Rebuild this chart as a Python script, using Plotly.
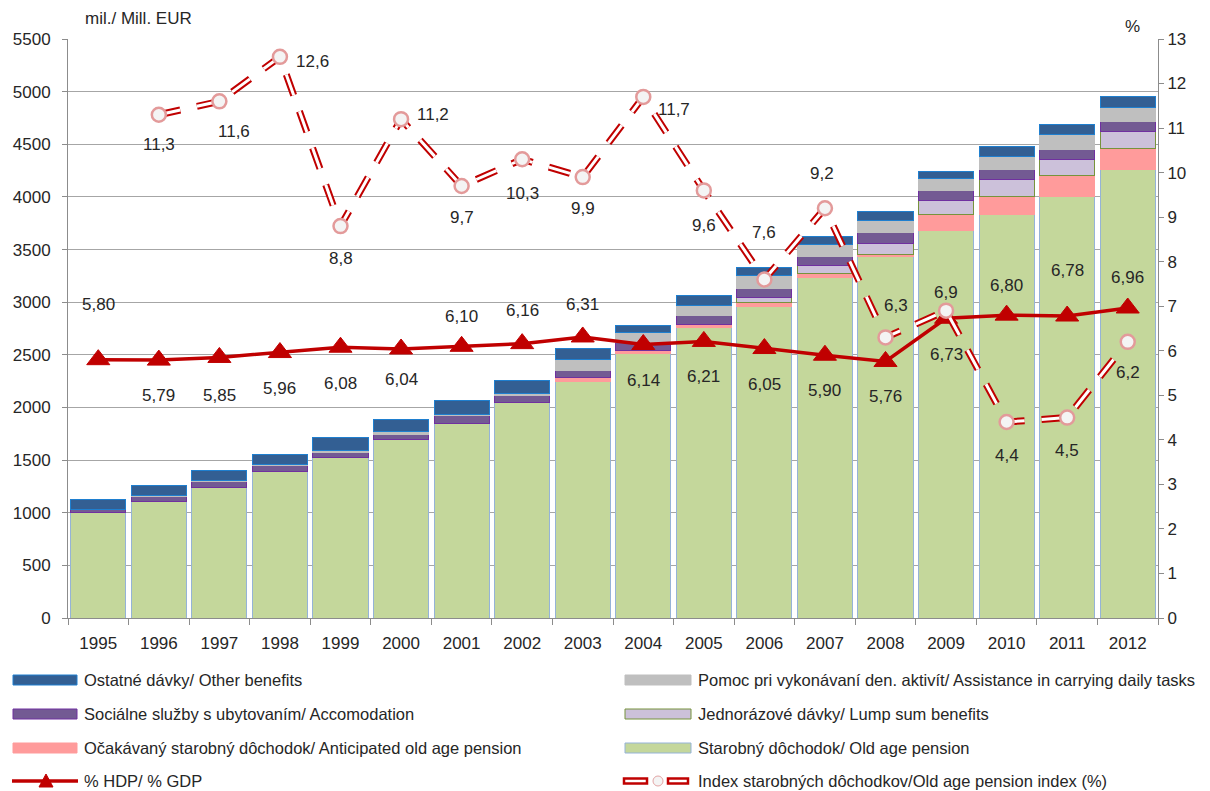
import plotly.graph_objects as go

years = [str(y) for y in range(1995, 2013)]

old_age = [1000, 1110, 1240, 1390, 1520, 1700, 1850, 2050, 2250, 2515, 2757, 2963, 3232, 3431, 3678, 3837, 4004, 4261]
anticipated = [None, None, None, None, None, None, None, None, 30, 30, 35, 30, 41, 22, 158, 171, 196, 199]
lump_sum = [None, None, None, None, None, None, None, None, None, None, None, 54, 73, 104, 127, 158, 158, 158]
accommodation = [30, 45, 55, 55, 55, 45, 70, 60, 73, 70, 85, 82, 85, 104, 101, 95, 95, 95]
assistance = [5, 8, 10, 12, 15, 25, 10, 25, 104, 95, 95, 123, 117, 111, 108, 127, 139, 136]
other = [90, 95, 98, 100, 126, 120, 140, 125, 107, 66, 95, 82, 79, 85, 66, 89, 95, 107]

gdp_share = [5.80, 5.79, 5.85, 5.96, 6.08, 6.04, 6.10, 6.16, 6.31, 6.14, 6.21, 6.05, 5.90, 5.76, 6.73, 6.80, 6.78, 6.96]
pension_index = [None, 11.3, 11.6, 12.6, 8.8, 11.2, 9.7, 10.3, 9.9, 11.7, 9.6, 7.6, 9.2, 6.3, 6.9, 4.4, 4.5, 6.2]

names = {
    "other": "Ostatné dávky/ Other benefits",
    "assist": "Pomoc pri vykonávaní den. aktivít/ Assistance in carrying daily tasks",
    "accom": "Sociálne služby s ubytovaním/ Accomodation",
    "lump": "Jednorázové dávky/ Lump sum benefits",
    "antic": "Očakávaný starobný dôchodok/ Anticipated old age pension",
    "old": "Starobný dôchodok/ Old age pension",
    "gdp": "% HDP/ % GDP",
    "index": "Index starobných dôchodkov/Old age pension index (%)",
}

# label offsets in pixels (dx right, dy down)
gdp_label_dy = [-55, 35, 38, 36, 36, 31, -30, -33, -32, 36, 35, 36, 35, 35, 36, -30, -46, -31]
idx_label_dx = [0, 0, 15, 33, 0, 32, 0, 0, 0, 31, 0, 0, -3, 10, 0, 0, 0, 0]
idx_label_dy = [0, 30, 30, 5, 32, -5, 32, 34, 31, 13, 35, -47, -35, -32, -18, 33, 33, 31]

FONT = "Liberation Sans, Arial, sans-serif"
TXT = "#262626"

C_GREEN = "#C4D79B"; L_GREEN = "#95B3D7"
C_PINK = "#FF9B9B"
C_LAV = "#CCC1DA"; L_LAV = "#77933C"
C_PUR = "#735A93"; L_PUR = "#7030A0"
C_GRAY = "#BFBFBF"
C_BLUE = "#335F93"; L_BLUE = "#1F7FCF"
C_RED = "#C00000"

fig = go.Figure()
stack = [
    (old_age, names["old"], C_GREEN, L_GREEN),
    (anticipated, names["antic"], C_PINK, C_PINK),
    (lump_sum, names["lump"], C_LAV, L_LAV),
    (accommodation, names["accom"], C_PUR, L_PUR),
    (assistance, names["assist"], C_GRAY, C_GRAY),
    (other, names["other"], C_BLUE, L_BLUE),
]
for vals, nm, fc, lc in stack:
    fig.add_trace(go.Bar(x=years, y=vals, name=nm, marker=dict(color=fc, line=dict(color=lc, width=1)),
                         showlegend=False))

fig.add_trace(go.Scatter(x=years, y=gdp_share, yaxis="y2", mode="lines+markers", name=names["gdp"],
                         line=dict(color=C_RED, width=3.5),
                         marker=dict(symbol="triangle-up", size=20, color=C_RED, line=dict(color=C_RED, width=1)),
                         showlegend=False))

fig.add_trace(go.Scatter(x=years, y=pension_index, yaxis="y2", mode="lines", connectgaps=False,
                         line=dict(color=C_RED, width=7, dash="22px,17px"), showlegend=False))
fig.add_trace(go.Scatter(x=years, y=pension_index, yaxis="y2", mode="lines", connectgaps=False,
                         line=dict(color="white", width=3, dash="22px,17px"), showlegend=False))
fig.add_trace(go.Scatter(x=years, y=pension_index, yaxis="y2", mode="markers", name=names["index"],
                         marker=dict(symbol="circle", size=14, color="#F4F4F4",
                                     line=dict(color="#E39A9A", width=2.5)), showlegend=False))

ann = []
for i, (v, dy) in enumerate(zip(gdp_share, gdp_label_dy)):
    ann.append(dict(x=i, y=v, xref="x", yref="y2", text=f"{v:.2f}".replace(".", ","), showarrow=False,
                    xanchor="center", yanchor="middle",
                    yshift=-dy, font=dict(size=17, color=TXT, family=FONT)))
for i, (v, dx, dy) in enumerate(zip(pension_index, idx_label_dx, idx_label_dy)):
    if v is None:
        continue
    ann.append(dict(x=i, y=v, xref="x", yref="y2", text=f"{v:.1f}".replace(".", ","), showarrow=False,
                    xanchor="center", yanchor="middle",
                    xshift=dx, yshift=-dy, font=dict(size=17, color=TXT, family=FONT)))

# page has an 8px body margin: figure is placed at (8, 8)
W, H = 1202, 783
L, R, T, B = 60, 52, 31, 173
PW, PH = W - L - R, H - T - B
OFF = 8


def px(xp):
    # page pixel x -> paper
    return (xp - OFF - L) / PW


def py(yp):
    # page pixel y -> paper
    return (H - B - (yp - OFF)) / PH


def text_ann(xp, yp, text, size, anchor="center"):
    return dict(x=px(xp), y=py(yp), xref="paper", yref="paper", xanchor=anchor, yanchor="middle",
                text=text, showarrow=False, font=dict(size=size, color=TXT, family=FONT))


ann.append(text_ann(138, 19, "mil./ Mill. EUR", 17))
ann.append(text_ann(1132, 27, "%", 17))

shapes = []
legend_rows = [680, 714, 748, 781]
left_items = [("other", C_BLUE, L_BLUE), ("accom", C_PUR, L_PUR), ("antic", C_PINK, C_PINK)]
right_items = [("assist", C_GRAY, C_GRAY), ("lump", C_LAV, L_LAV), ("old", C_GREEN, L_GREEN)]
LEG_SIZE = 16.5
for i, (k, fc, lc) in enumerate(left_items):
    yc = legend_rows[i]
    shapes.append(dict(type="rect", xref="paper", yref="paper", x0=px(13), x1=px(77), y0=py(yc - 5), y1=py(yc + 5),
                       fillcolor=fc, line=dict(color=lc, width=1)))
    ann.append(text_ann(82, yc, names[k], LEG_SIZE, "left"))
for i, (k, fc, lc) in enumerate(right_items):
    yc = legend_rows[i]
    shapes.append(dict(type="rect", xref="paper", yref="paper", x0=px(625), x1=px(691), y0=py(yc - 5), y1=py(yc + 5),
                       fillcolor=fc, line=dict(color=lc, width=1)))
    ann.append(text_ann(696, yc, names[k], LEG_SIZE, "left"))
# GDP legend
yc = legend_rows[3]
shapes.append(dict(type="line", xref="paper", yref="paper", x0=px(12), x1=px(78), y0=py(yc), y1=py(yc),
                   line=dict(color=C_RED, width=3.5)))
tri = f"M {px(39)},{py(yc + 6)} L {px(53)},{py(yc + 6)} L {px(46)},{py(yc - 7)} Z"
shapes.append(dict(type="path", xref="paper", yref="paper", path=tri, fillcolor=C_RED, line=dict(color=C_RED, width=1)))
ann.append(text_ann(82, yc, names["gdp"], LEG_SIZE, "left"))
# Index legend
for x0, x1 in [(624, 647), (668, 688)]:
    shapes.append(dict(type="rect", xref="paper", yref="paper", x0=px(x0), x1=px(x1), y0=py(yc - 2.5), y1=py(yc + 2.5),
                       fillcolor="white", line=dict(color=C_RED, width=2.5)))
shapes.append(dict(type="circle", xref="paper", yref="paper", x0=px(653), x1=px(663), y0=py(yc + 5), y1=py(yc - 5),
                   fillcolor="#F4F4F4", line=dict(color="#E3A5A5", width=1)))
ann.append(text_ann(696, yc, names["index"], LEG_SIZE, "left"))

AX = "#8C8C8C"
fig.update_layout(
    width=W, height=H,
    margin=dict(l=L, r=R, t=T, b=B, autoexpand=False),
    barmode="stack", bargap=0.09,
    plot_bgcolor="white", paper_bgcolor="white",
    font=dict(family=FONT, color=TXT, size=16),
    showlegend=False,
    xaxis=dict(type="category", range=[-0.5, len(years) - 0.5], autorange=False, showline=True, linecolor=AX,
               linewidth=1, ticks="outside", tickson="boundaries", tickangle=0, ticklabelstandoff=10,
               ticklen=6, tickcolor=AX, tickfont=dict(size=17, color=TXT), showgrid=False, mirror=False),
    yaxis=dict(range=[0, 5500], dtick=500, showline=True, linecolor=AX, linewidth=1, ticks="outside", ticklen=5,
               ticklabelstandoff=8,
               tickcolor=AX, gridcolor="#A6A6A6", gridwidth=1, tickfont=dict(size=17, color=TXT), zeroline=False),
    yaxis2=dict(range=[0, 13], dtick=1, overlaying="y", side="right", showline=True, linecolor=AX, linewidth=1,
                ticks="outside", ticklen=5, tickcolor=AX, showgrid=False, tickfont=dict(size=17, color=TXT),
                zeroline=False),
    annotations=ann,
    shapes=shapes,
)

fig.write_html("out.html")
